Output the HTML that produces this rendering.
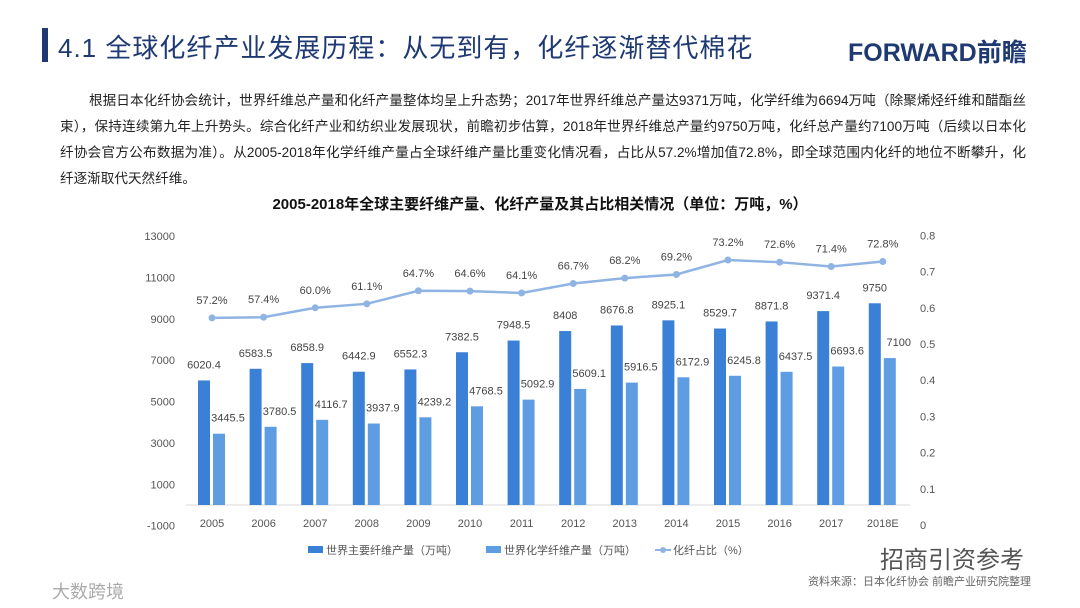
<!DOCTYPE html>
<html><head><meta charset="utf-8"><style>
body{margin:0;width:1080px;height:608px;background:#fff;overflow:hidden;font-family:"Liberation Sans","Noto Sans CJK SC",sans-serif;position:relative}
.t{position:absolute}
.pl{text-align:justify;text-align-last:justify;white-space:nowrap}
</style></head><body>
<div class="t" style="left:42px;top:28px;width:6px;height:34px;background:#1f3a73"></div>
<div class="t" style="left:58px;top:28px;font-size:26px;color:#1f3a73;letter-spacing:1px;font-family:'Liberation Sans','Noto Sans CJK SC',sans-serif">4.1 全球化纤产业发展历程：从无到有，化纤逐渐替代棉花</div>
<div class="t" style="left:848px;top:33px;font-size:25px;font-weight:bold;color:#1f3a73">FORWARD前瞻</div>
<div class="t" style="left:60px;top:88px;width:966px;font-size:13.6px;line-height:26px;color:#222">
<div class="pl" style="padding-left:29px">根据日本化纤协会统计，世界纤维总产量和化纤产量整体均呈上升态势；2017年世界纤维总产量达9371万吨，化学纤维为6694万吨（除聚烯烃纤维和醋酯丝</div>
<div class="pl">束），保持连续第九年上升势头。综合化纤产业和纺织业发展现状，前瞻初步估算，2018年世界纤维总产量约9750万吨，化纤总产量约7100万吨（后续以日本化</div>
<div class="pl">纤协会官方公布数据为准）。从2005-2018年化学纤维产量占全球纤维产量比重变化情况看，占比从57.2%增加值72.8%，即全球范围内化纤的地位不断攀升，化</div>
<div>纤逐渐取代天然纤维。</div>
</div>
<div class="t" style="left:0;width:1080px;top:193px;text-align:center;font-size:15px;font-weight:bold;color:#111">2005-2018年全球主要纤维产量、化纤产量及其占比相关情况（单位：万吨，%）</div>
<svg class="t" style="left:0;top:0" width="1080" height="608" id="chart"></svg>
<div class="t" style="left:808px;top:573px;font-size:11px;color:#666">资料来源：日本化纤协会 前瞻产业研究院整理</div>
<div class="t" style="left:880px;top:540px;font-size:24px;color:#555">招商引资参考</div>
<div class="t" style="left:52px;top:578px;font-size:18px;color:#aaa">大数跨境</div>
<script>
const categories=["2005","2006","2007","2008","2009","2010","2011","2012","2013","2014","2015","2016","2017","2018E"];
const totalFiber=[6020.4,6583.5,6858.9,6442.9,6552.3,7382.5,7948.5,8408,8676.8,8925.1,8529.7,8871.8,9371.4,9750];
const chemFiber=[3445.5,3780.5,4116.7,3937.9,4239.2,4768.5,5092.9,5609.1,5916.5,6172.9,6245.8,6437.5,6693.6,7100];
const share=[57.2,57.4,60.0,61.1,64.7,64.6,64.1,66.7,68.2,69.2,73.2,72.6,71.4,72.8];
const leftTicks=[-1000,1000,3000,5000,7000,9000,11000,13000];
const rightTicks=[0,0.1,0.2,0.3,0.4,0.5,0.6,0.7,0.8];
const svg=document.getElementById('chart');const NS='http://www.w3.org/2000/svg';
const x=i=>212+i*51.6;
const yL=v=>505-v*0.02069;
const yR=v=>525-v*362;
function mk(tag,a,txt){const e=document.createElementNS(NS,tag);for(const k in a)e.setAttribute(k,a[k]);if(txt!==undefined)e.textContent=txt;svg.appendChild(e);return e;}
leftTicks.forEach(v=>{const e=mk('text',{x:175,y:yL(v)+4,'text-anchor':'end','font-size':11,fill:'#555'},String(v));

});
rightTicks.forEach(v=>{const e=mk('text',{x:920,y:yR(v)+4,'font-size':11,fill:'#555'},String(v));

});
const base=mk('line',{x1:186,x2:910,y1:yL(0),y2:yL(0),stroke:'#d9d9d9','stroke-width':1});


categories.forEach((c,i)=>{
 const b1=mk('rect',{x:x(i)-14,y:yL(totalFiber[i]),width:12,height:yL(0)-yL(totalFiber[i]),fill:'#3a80d6'});
 
 
 const b2=mk('rect',{x:x(i)+1,y:yL(chemFiber[i]),width:12,height:yL(0)-yL(chemFiber[i]),fill:'#5f9de2'});
 
 
 const l1=mk('text',{x:x(i)-8,y:yL(totalFiber[i])-12,'text-anchor':'middle','font-size':11,fill:'#444'},String(totalFiber[i]));
 
 
 const l2=mk('text',{x:x(i)+16,y:yL(chemFiber[i])-12,'text-anchor':'middle','font-size':11,fill:'#444'},String(chemFiber[i]));
 
 
 const xl=mk('text',{x:x(i),y:527,'text-anchor':'middle','font-size':11,fill:'#555'},c);
 
 
});
let d='';share.forEach((s,i)=>{d+=(i?'L':'M')+x(i)+','+yR(s/100);});
const ln=mk('path',{d:d,fill:'none',stroke:'#8fb4e3','stroke-width':2.5});


share.forEach((s,i)=>{
 const p=mk('circle',{cx:x(i),cy:yR(s/100),r:3.5,fill:'#8fb4e3'});
 
 
 const t=mk('text',{x:x(i),y:yR(s/100)-14,'text-anchor':'middle','font-size':11,fill:'#444'},s.toFixed(1)+'%');
 
 
});
const leg=[[308,'#3a80d6','世界主要纤维产量（万吨）','rect'],[486,'#5f9de2','世界化学纤维产量（万吨）','rect'],[655,'#8fb4e3','化纤占比（%）','line']];
leg.forEach(l=>{
 if(l[3]==='rect'){const r=mk('rect',{x:l[0],y:546,width:15,height:7,fill:l[1]});}
 else{const r=mk('line',{x1:l[0],x2:l[0]+16,y1:550,y2:550,stroke:l[1],'stroke-width':2});mk('circle',{cx:l[0]+8,cy:550,r:3,fill:l[1]});}
 const t=mk('text',{x:l[0]+18,y:554,'font-size':11,fill:'#555'},l[2]);
 
 
});
</script>
</body></html>
